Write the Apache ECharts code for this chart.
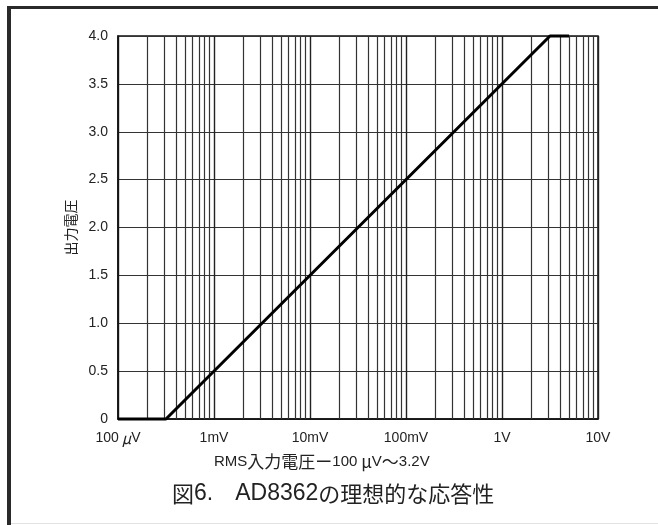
<!DOCTYPE html>
<html>
<head>
<meta charset="utf-8">
<style>
  html, body { margin: 0; padding: 0; background: #fff; }
  #chart { width: 658px; height: 525px; }
</style>
<script src="https://cdn.jsdelivr.net/npm/echarts@6/dist/echarts.min.js"></script>
</head>
<body>
<div id="chart"></div>
<script>
// Ideal transfer curve: RMS input voltage (V) vs. output voltage (V)
const inputVolts = [0.0001, 0.000316, 3.16, 5.0];
const outputVolts = [0, 0, 4.0, 4.0];

// Decade tick labels on the log axis (100µV .. 10V); {c|..} marks CJK-font runs
const xTickLabels = ['100{c|μ}V', '1mV', '10mV', '100mV', '1V', '10V'];
// Minor grid: 2..9 within each decade
const decadeStarts = [0.0001, 0.001, 0.01, 0.1, 1];
const minorMultipliers = [2, 3, 4, 5, 6, 7, 8, 9];

const yTickValues = [0, 0.5, 1.0, 1.5, 2.0, 2.5, 3.0, 3.5, 4.0];

const titleText = '{c|図}{l|6.}{c|　}{l|AD8362}{c|の理想的な応答性}';
const xAxisTitle = '{l|RMS}{c|入力電圧ー}{l|100}{c| μ}{l|V}{c|～}{l|3.2V}';
const yAxisTitle = '出力電圧';

// Each minor grid line runs the full output range at a fixed input voltage
const minorGrid = [];
decadeStarts.forEach(d => minorMultipliers.forEach(m => {
  const v = +(d * m).toPrecision(3);
  minorGrid.push({ coords: [[v, yTickValues[0]], [v, yTickValues[yTickValues.length - 1]]] });
}));

const latin = '"Liberation Sans", Arial, sans-serif';
const cjk = '"Noto Sans CJK JP", sans-serif';

const chart = echarts.init(document.getElementById('chart'), null, { renderer: 'canvas' });
chart.setOption({
  animation: false,
  backgroundColor: '#fff',
  graphic: [
    { type: 'rect', shape: { x: 7, y: 6, width: 651, height: 3 }, style: { fill: '#2a2a2a' }, silent: true },
    { type: 'rect', shape: { x: 7, y: 6, width: 4, height: 519 }, style: { fill: '#2a2a2a' }, silent: true },
    { type: 'rect', shape: { x: 11, y: 523, width: 647, height: 1 }, style: { fill: '#e2e2e2' }, silent: true },
    {
      type: 'text', x: 214, y: 462, silent: true,
      style: {
        text: xAxisTitle, fill: '#222', verticalAlign: 'middle',
        rich: {
          l: { fontFamily: latin, fontSize: 15, fill: '#222' },
          c: { fontFamily: cjk, fontSize: 17, fill: '#222' }
        }
      }
    },
    {
      type: 'text', x: 172, y: 494, silent: true,
      style: {
        text: titleText, fill: '#222', verticalAlign: 'middle',
        rich: {
          l: { fontFamily: latin, fontSize: 23, fill: '#222' },
          c: { fontFamily: cjk, fontSize: 22, fill: '#222' }
        }
      }
    }
  ],
  grid: {
    left: 118, right: 60, top: 36, bottom: 106,
    show: true, borderColor: '#111', borderWidth: 1.5, backgroundColor: 'transparent'
  },
  xAxis: {
    type: 'log',
    logBase: 10,
    min: 0.0001,
    max: 10,
    axisLine: { show: true, lineStyle: { color: '#111', width: 1.5 } },
    axisTick: { show: false },
    splitLine: { show: true, lineStyle: { color: '#222', width: 1.4 } },
    axisLabel: {
      margin: 12,
      fontFamily: latin,
      fontSize: 14,
      color: '#222',
      rich: { c: { fontFamily: cjk, fontSize: 15, fontStyle: 'italic', color: '#222', padding: [0, 0, 0, 3] } },
      formatter: v => xTickLabels[Math.round(Math.log10(v)) + 4] || ''
    }
  },
  yAxis: {
    type: 'value',
    min: 0,
    max: 4,
    interval: 0.5,
    name: yAxisTitle,
    nameLocation: 'middle',
    nameGap: 40,
    nameRotate: 90,
    nameTextStyle: { fontFamily: cjk, fontSize: 14, color: '#222' },
    axisLine: { show: true, lineStyle: { color: '#111', width: 1.5 } },
    axisTick: { show: false },
    splitLine: { show: true, lineStyle: { color: '#333', width: 1.2 } },
    axisLabel: {
      margin: 10,
      fontFamily: latin,
      fontSize: 14,
      color: '#222',
      formatter: v => (yTickValues.indexOf(v) >= 0 ? (v === 0 ? '0' : v.toFixed(1)) : '')
    }
  },
  series: [
    {
      type: 'lines',
      coordinateSystem: 'cartesian2d',
      z: 1,
      silent: true,
      lineStyle: { color: '#333', width: 1.2, opacity: 1 },
      data: minorGrid
    },
    {
      type: 'line',
      z: 5,
      data: inputVolts.map((x, i) => [x, outputVolts[i]]),
      showSymbol: false,
      clip: false,
      lineStyle: { color: '#000', width: 3 },
      silent: true
    }
  ]
});
</script>
</body>
</html>
